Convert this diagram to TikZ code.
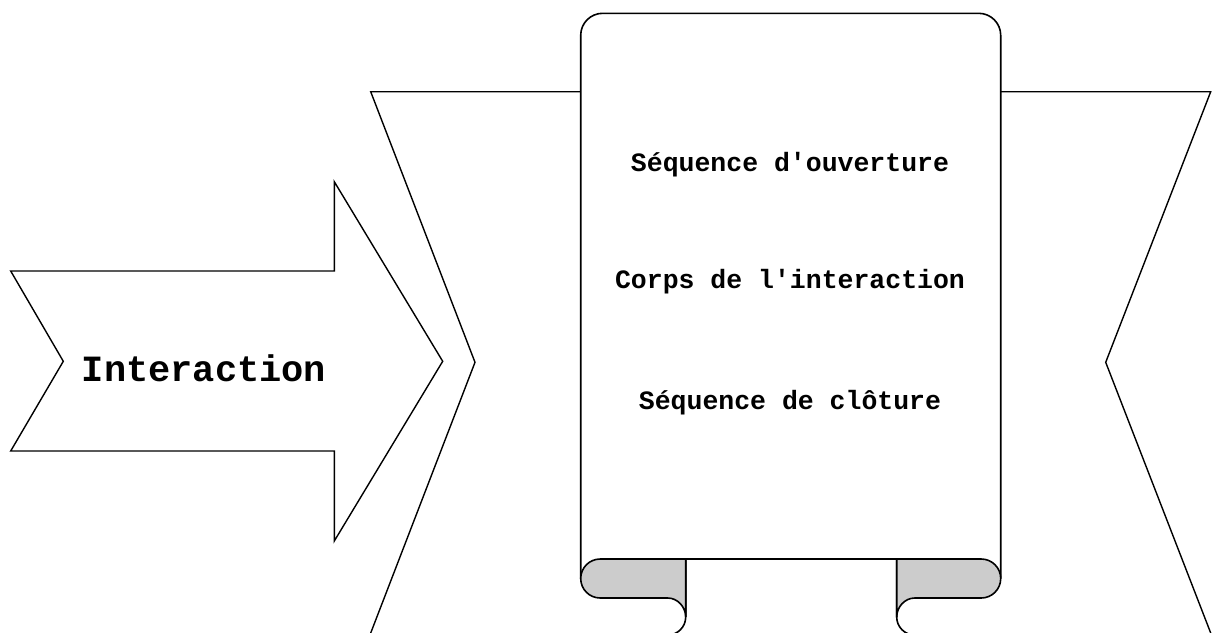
\documentclass[tikz,border=0pt]{standalone}
\usepackage{fontspec}
\newfontfamily\courfont{Liberation Mono}
\begin{document}
\begin{tikzpicture}[x=1pt,y=-1pt,
  outline/.style={draw=black,line width=1.4pt,line join=miter},
  scrollline/.style={draw=black,line width=1.6pt},
  curl/.style={scrollline,fill=black!20},
  bigtext/.style={font=\courfont\bfseries\fontsize{37}{40}\selectfont,anchor=base,inner sep=0pt},
  itemtext/.style={font=\courfont\bfseries\fontsize{26.5}{30}\selectfont,anchor=base,inner sep=0pt}]
\useasboundingbox (0,0) rectangle (1217,632);
\clip (0,0) rectangle (1217,632);

% ribbon tails behind the scroll
\draw[outline] (580.7,91.7) -- (370.7,91.7) -- (475,362.3) -- (370.7,633);
\draw[outline] (1000.7,91.7) -- (1210.7,91.7) -- (1105.7,362.3) -- (1210.7,633);

% rolled ends under the scroll
\draw[scrollline] (685.7,559) -- (685.7,617) .. controls (685.7,626.94) and (677.64,635) .. (667.7,635);
\draw[scrollline] (896.7,559) -- (896.7,617) .. controls (896.7,626.94) and (904.76,635) .. (914.7,635);

% scroll panel
\fill[white,rounded corners=22pt] (580.7,560) -- (580.7,13.3) -- (1000.7,13.3) [sharp corners] -- (1000.7,560) -- cycle;
\draw[scrollline,rounded corners=22pt] (580.7,578.5) -- (580.7,13.3) -- (1000.7,13.3) -- (1000.7,578.5);

% curled corners
\path[curl] (685.7,559) -- (600.2,559)
  .. controls (589.43,559) and (580.7,567.73) .. (580.7,578.5)
  .. controls (580.7,589.27) and (589.43,598) .. (600.2,598)
  -- (667.7,598)
  .. controls (677.64,598) and (685.7,607.06) .. (685.7,617) -- cycle;
\path[curl] (896.7,559) -- (981.2,559)
  .. controls (991.97,559) and (1000.7,567.73) .. (1000.7,578.5)
  .. controls (1000.7,589.27) and (991.97,598) .. (981.2,598)
  -- (914.7,598)
  .. controls (904.76,598) and (896.7,607.06) .. (896.7,617) -- cycle;
\draw[scrollline] (685.7,559) -- (896.7,559);

% incoming arrow
\draw[outline,fill=white] (10.7,271) -- (334.3,271) -- (334.3,181.7) -- (442.7,361.3)
  -- (334.3,541) -- (334.3,451) -- (10.7,451) -- (63.3,361.3) -- cycle;

% labels
\node[bigtext] (inter) at (204,381) {Interaction};
\node[itemtext] (ouv) at (790,171) {Séquence d'ouverture};
\node[itemtext] (corps) at (790,288) {Corps de l'interaction};
\node[itemtext] (clot) at (790,409) {Séquence de clôture};
\end{tikzpicture}
\end{document}
